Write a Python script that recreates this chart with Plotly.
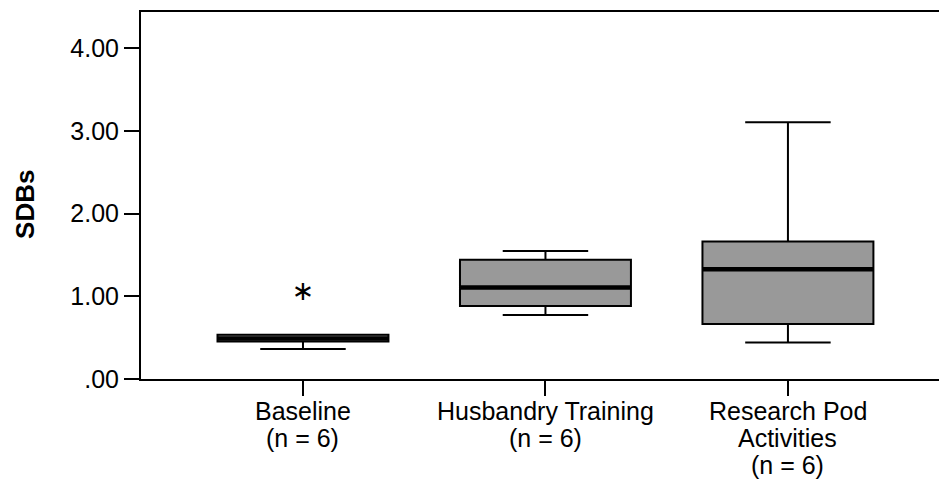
import plotly.graph_objects as go

# Groups along the x axis (one list entry per label line)
groups = [
    ["Baseline", "(n = 6)"],
    ["Husbandry Training", "(n = 6)"],
    ["Research Pod", "Activities", "(n = 6)"],
]
positions = [0, 1, 2]

# Five-number summaries of SDBs per group
q1 = [0.455, 0.882, 0.665]
median = [0.49, 1.107, 1.329]
q3 = [0.535, 1.442, 1.663]
lower_fence = [0.362, 0.773, 0.442]
upper_fence = [0.535, 1.550, 3.106]

# Extreme value flagged with a star
outlier_pos = [0]
outlier_val = [1.04]

# Y axis ticks
y_ticks = [0, 1, 2, 3, 4]
y_tick_labels = [".00", "1.00", "2.00", "3.00", "4.00"]

BOX_WIDTH = 0.705
FONT = "Liberation Sans, Arial, sans-serif"
LABEL_SIZE = 25
LINE_STEP = 27      # px between category label lines
FIRST_LINE = 32     # px from the axis line to the first label line

fig = go.Figure()

fig.add_trace(go.Box(
    x=positions,
    q1=q1, median=median, q3=q3,
    lowerfence=lower_fence, upperfence=upper_fence,
    width=BOX_WIDTH,
    whiskerwidth=0.5,
    fillcolor="#999999",
    line=dict(color="black", width=2),
    boxpoints=False,
    hoverinfo="skip",
    showlegend=False,
))

# Heavy median bars drawn over each box
mx, my = [], []
for p, m in zip(positions, median):
    mx += [p - BOX_WIDTH / 2, p + BOX_WIDTH / 2, None]
    my += [m, m, None]
fig.add_trace(go.Scatter(
    x=mx, y=my, mode="lines",
    line=dict(color="black", width=4.5),
    hoverinfo="skip", showlegend=False,
))

# Outlier star
fig.add_trace(go.Scatter(
    x=outlier_pos, y=outlier_val, mode="text", text=["\u2217"],
    textposition="middle center",
    textfont=dict(family="DejaVu Sans", size=27, color="black"),
    hoverinfo="skip", showlegend=False,
))

# Category labels, one line at a time for tight line spacing
annotations = []
for p, lines in zip(positions, groups):
    for i, line in enumerate(lines):
        annotations.append(dict(
            x=p, xref="x", y=0, yref="paper",
            text=line, showarrow=False,
            xanchor="center", yanchor="middle",
            yshift=-(FIRST_LINE + i * LINE_STEP),
            font=dict(family=FONT, size=LABEL_SIZE, color="black"),
        ))

# Y axis title
annotations.append(dict(
    x=-0.1454, xref="paper", y=0.477, yref="paper",
    text="<b>SDBs</b>", textangle=-90, showarrow=False,
    xanchor="center", yanchor="middle",
    font=dict(family=FONT, size=26, color="black"),
))

fig.update_layout(
    width=939, height=479,
    margin=dict(l=141, r=0, t=12, b=100),
    paper_bgcolor="white", plot_bgcolor="white",
    font=dict(family=FONT, size=24, color="black"),
    showlegend=False,
    annotations=annotations,
)

fig.update_xaxes(
    range=[-0.668, 2.623],
    tickmode="array", tickvals=positions, showticklabels=False,
    ticks="outside", ticklen=15, tickwidth=2, tickcolor="black",
    showline=True, linecolor="black", linewidth=2, mirror=True,
    showgrid=False, zeroline=False, automargin=False,
)

fig.update_yaxes(
    range=[0, 4.44],
    tickmode="array", tickvals=y_ticks, ticktext=y_tick_labels,
    ticks="outside", ticklen=15, tickwidth=2, tickcolor="black",
    showline=True, linecolor="black", linewidth=2, mirror=False,
    showgrid=False, zeroline=False, automargin=False,
    tickfont=dict(family=FONT, size=25, color="black"),
)

fig.write_html("out.html")
